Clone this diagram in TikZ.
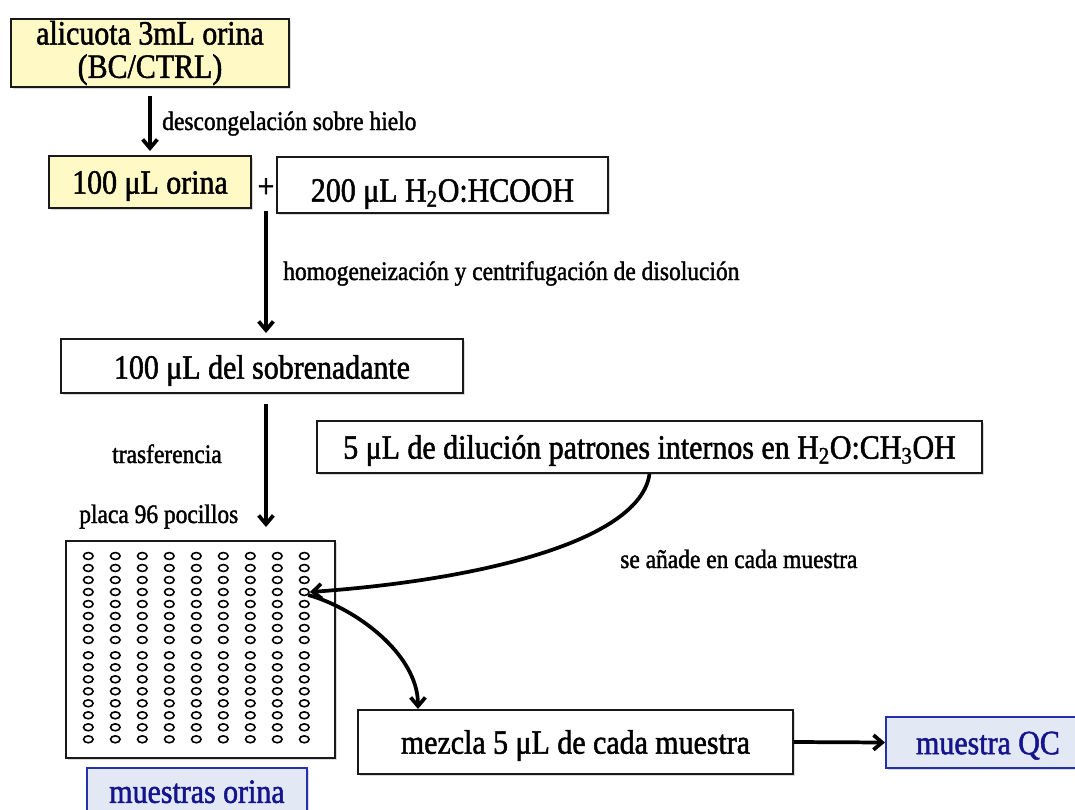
\documentclass[tikz,border=0pt]{standalone}
\usepackage{fontspec}
\setmainfont{Liberation Serif}[FakeStretch=0.88,FakeBold=1.5]
\usetikzlibrary{arrows.meta,shapes.geometric,shadows,calc}

\definecolor{boxyellow}{RGB}{255,249,198}
\definecolor{qcfill}{RGB}{226,233,245}
\definecolor{qcline}{RGB}{35,50,170}
\definecolor{qctext}{RGB}{20,20,140}

\newcommand\maintext{\fontsize{25.5}{25}\selectfont}
\newcommand\labeltext{\fontsize{20}{24}\selectfont}

\begin{document}
\begin{tikzpicture}[x=0.75pt,y=-0.75pt,
  sized/.style 2 args={minimum width=#1*0.75pt,minimum height=#2*0.75pt},
  box/.style={draw=black!90,line width=1.5pt,fill=white,inner sep=0pt,
    font=\maintext,text height=17.5pt,text depth=0pt,
    drop shadow={shadow xshift=1.2pt,shadow yshift=-1.6pt,opacity=0.3}},
  qcbox/.style={box,draw=qcline,fill=qcfill,text=qctext},
  lab/.style={font=\labeltext,inner sep=0pt},
  well/.style={ellipse,draw,line width=1.2pt,inner sep=0pt,
    minimum width=7.2pt,minimum height=5.2pt},
  arr/.style={line width=2.8pt,-{Straight Barb[length=6.5pt,width=11pt]}}]

\useasboundingbox (0,0) rectangle (1075,810);

% process boxes
\node[box,fill=boxyellow,sized={278}{68},align=center,text height=,text depth=] (alic) at (150,53)
  {alicuota 3mL orina\\(BC/CTRL)};
\node[box,fill=boxyellow,sized={202}{52}] (orina) at (150,182) {100 μL orina};
\node[box,sized={331}{56},text height=25pt] (hcooh) at (442.5,185) {200 μL H\textsubscript{2}O:HCOOH};
\node[inner sep=0pt,font=\maintext] (plus) at (266,188) {+};
\node[box,sized={402}{54},text height=19pt] (sobre) at (262,366) {100 μL del sobrenadante};
\node[box,sized={665}{52}] (intstd) at (649.5,447)
  {5 μL de dilución patrones internos en H\textsubscript{2}O:CH\textsubscript{3}OH};

% 96-well plate
\node[box,sized={269}{217}] (plate) at (200.5,649.5) {};
\foreach \c in {1,...,9}
  \foreach \r in {1,...,16} {
    \pgfmathsetmacro\wx{88.3+27*(\c-1)}
    \pgfmathsetmacro\wy{556+12*(\r-1)+(\r>8)*3.3}
    \node[well] (w-\c-\r) at (\wx,\wy) {};
  }

\node[box,sized={435}{64}] (mezcla) at (575.5,742) {mezcla 5 μL de cada muestra};
\node[qcbox,sized={204}{51}] (qc) at (988,742.5) {muestra QC};
\node[qcbox,sized={220}{51},text height=14pt] (orinas) at (197,793.5) {muestras orina};

% step labels
\node[lab,anchor=base west] (l1) at (162,130) {descongelación sobre hielo};
\node[lab,anchor=base west] (l2) at (283,280) {homogeneización y centrifugación de disolución};
\node[lab,anchor=base west] (l3) at (112,463) {trasferencia};
\node[lab,anchor=base west] (l4) at (79,523) {placa 96 pocillos};
\node[lab,anchor=base west] (l5) at (620,568) {se añade en cada muestra};

% connectors
\draw[arr] ($(alic.south)+(0,8)$) -- ($(alic.south |- orina.north)+(0,-4)$);
\draw[arr] ($(plus.south |- hcooh.south)+(0,-3)$) -- ($(plus.south |- sobre.north)+(0,-5)$);
\draw[arr] ($(plus.south |- sobre.south)+(0,10)$) -- ($(plus.south |- plate.north)+(0,-13)$);
\draw[arr] (intstd.south) .. controls +(-9.5,67) and +(170.7,-12) .. (w-9-4.east);
\draw[arr] (w-9-4.south east) .. controls +(47,13) and +(0,-55) .. ($(mezcla.north west)+(61,0)$);
\draw[arr] (mezcla.east) -- (qc.west);

\end{tikzpicture}
\end{document}
